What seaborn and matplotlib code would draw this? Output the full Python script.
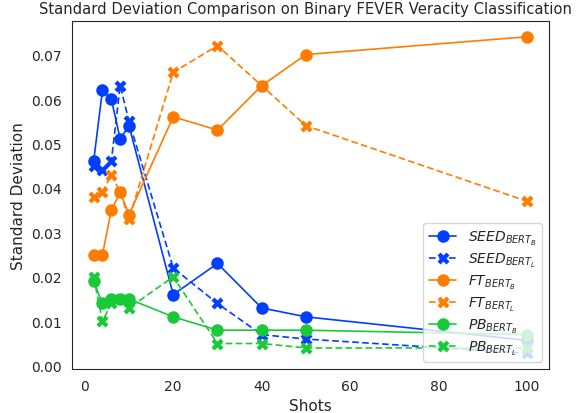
import matplotlib
matplotlib.use("Agg")
import matplotlib.pyplot as plt
import seaborn as sns
import pandas as pd

shots = [2, 4, 6, 8, 10, 20, 30, 40, 50, 100]

seed_bert_b = [0.046, 0.062, 0.060, 0.051, 0.054, 0.016, 0.023, 0.013, 0.011, 0.0057]
seed_bert_l = [0.045, 0.044, 0.046, 0.063, 0.055, 0.022, 0.014, 0.007, 0.006, 0.0028]
ft_bert_b = [0.025, 0.025, 0.035, 0.039, 0.034, 0.056, 0.053, 0.063, 0.070, 0.074]
ft_bert_l = [0.038, 0.039, 0.043, 0.039, 0.033, 0.066, 0.072, 0.063, 0.054, 0.037]
pb_bert_b = [0.019, 0.014, 0.015, 0.015, 0.015, 0.011, 0.008, 0.008, 0.008, 0.007]
pb_bert_l = [0.020, 0.010, 0.014, 0.015, 0.013, 0.020, 0.005, 0.005, 0.004, 0.004]

labels = [r"$SEED_{BERT_B}$", r"$SEED_{BERT_L}$", r"$FT_{BERT_B}$",
          r"$FT_{BERT_L}$", r"$PB_{BERT_B}$", r"$PB_{BERT_L}$"]
series = [seed_bert_b, seed_bert_l, ft_bert_b, ft_bert_l, pb_bert_b, pb_bert_l]

# long-form table for seaborn
df = pd.concat([pd.DataFrame({"Shots": shots, "Standard Deviation": vals, "Model": lab})
                for lab, vals in zip(labels, series)], ignore_index=True)

bright = sns.color_palette("bright")
palette = {}
dashes = {}
markers = {}
for i, lab in enumerate(labels):
    palette[lab] = bright[i // 2]
    dashes[lab] = "" if i % 2 == 0 else (4, 2)
    markers[lab] = "o" if i % 2 == 0 else "X"

sns.set_style("white")
fig, ax = plt.subplots(figsize=(5.85, 4.14), dpi=100)
sns.lineplot(data=df, x="Shots", y="Standard Deviation", hue="Model", style="Model",
             palette=palette, dashes=dashes, markers=markers, markersize=9,
             markeredgecolor="none", linewidth=1.2, ax=ax)

ax.set_title("Standard Deviation Comparison on Binary FEVER Veracity Classification",
             fontsize=10.6, x=0.49)
ax.set_xlabel("Shots", fontsize=11)
ax.set_ylabel("Standard Deviation", fontsize=11)
ax.tick_params(labelsize=10)
ax.yaxis.set_major_formatter(matplotlib.ticker.FormatStrFormatter("%.2f"))
ax.legend(loc="lower right", fontsize=10, labelspacing=0.28, handlelength=2.0,
          borderaxespad=0.5)

plt.subplots_adjust(left=0.123, right=0.938, top=0.947, bottom=0.106)
plt.savefig("out.png")
